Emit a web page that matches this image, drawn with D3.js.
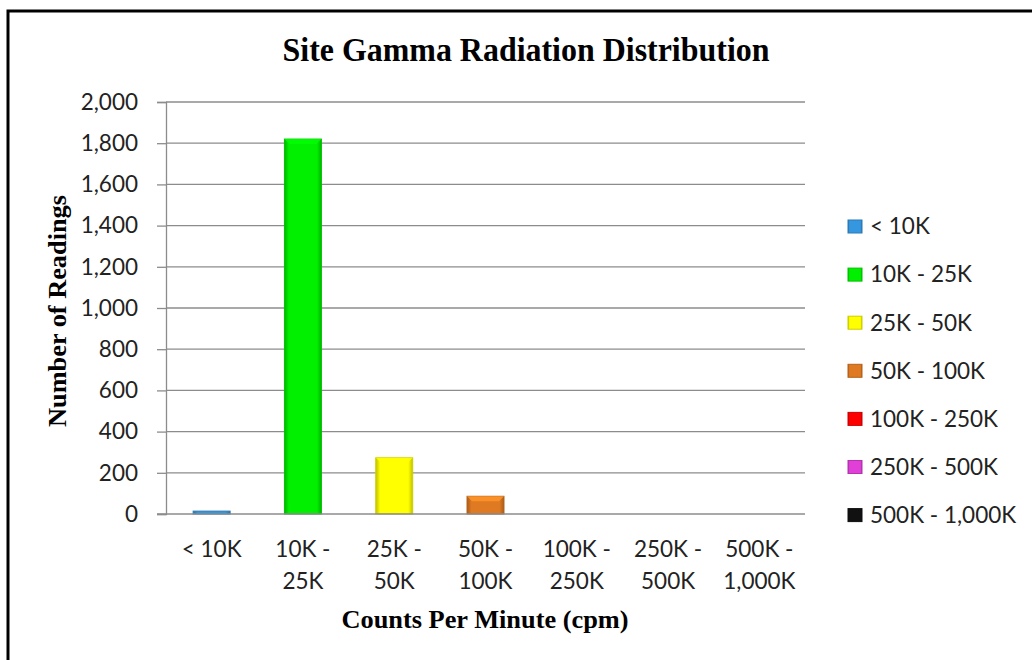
<!DOCTYPE html>
<html>
<head>
<meta charset="utf-8">
<title>Site Gamma Radiation Distribution</title>
<script src="https://d3js.org/d3.v7.min.js"></script>
<style>
    body { margin: 0; background: white; }
    .tick-label { font-family: Lato, "Open Sans", sans-serif; font-size: 22.5px; fill: #222; }
    .serif-title { font-family: "Liberation Serif", "DejaVu Serif", serif; font-weight: bold; fill: #000; }
</style>
</head>
<body>
<div id="chart"></div>
<script>
    // chart data
    const categories = ["< 10K", "10K - 25K", "25K - 50K", "50K - 100K", "100K - 250K", "250K - 500K", "500K - 1,000K"];
    const categoryLines = [["< 10K"], ["10K -", "25K"], ["25K -", "50K"], ["50K -", "100K"], ["100K -", "250K"], ["250K -", "500K"], ["500K -", "1,000K"]];
    const readings = [14, 1820, 273, 86, 0, 0, 0];
    const barColors = ["#3597df", "#00f000", "#ffff00", "#e07a22", "#ff0000", "#e040d8", "#111111"];
    const yTicks = [0, 200, 400, 600, 800, 1000, 1200, 1400, 1600, 1800, 2000];

    const width = 1032, height = 660;
    const plot = { left: 166, right: 805, top: 102, bottom: 514 };

    const svg = d3.select("#chart").append("svg")
        .attr("width", width)
        .attr("height", height);

    // outer frame (runs off the right and bottom edges)
    svg.append("rect")
        .attr("x", 8).attr("y", 11)
        .attr("width", 1200).attr("height", 900)
        .attr("fill", "white")
        .attr("stroke", "#000")
        .attr("stroke-width", 3);

    const x = d3.scaleBand()
        .domain(categories)
        .range([plot.left, plot.right])
        .paddingInner(0.595)
        .paddingOuter(0.2975);

    const y = d3.scaleLinear()
        .domain([0, 2000])
        .range([plot.bottom, plot.top]);

    // gradients to fake the bevelled bars
    const defs = svg.append("defs");
    barColors.forEach((c, i) => {
        const g = defs.append("linearGradient").attr("id", "bev" + i)
            .attr("x1", 0).attr("x2", 1).attr("y1", 0).attr("y2", 0);
        const dark = d3.color(c).darker(0.8);
        g.append("stop").attr("offset", "0%").attr("stop-color", dark);
        g.append("stop").attr("offset", "12%").attr("stop-color", c);
        g.append("stop").attr("offset", "88%").attr("stop-color", c);
        g.append("stop").attr("offset", "100%").attr("stop-color", dark);
    });

    // gridlines
    svg.append("g")
        .selectAll("line")
        .data(yTicks.filter(d => d > 0))
        .join("line")
        .attr("x1", plot.left).attr("x2", plot.right)
        .attr("y1", d => y(d)).attr("y2", d => y(d))
        .attr("stroke", "#8c8c8c")
        .attr("stroke-width", 1.3);

    // y axis
    const yAxis = svg.append("g")
        .attr("transform", `translate(${plot.left},0)`)
        .call(d3.axisLeft(y).tickValues(yTicks).tickSize(9).tickPadding(19).tickFormat(d3.format(",")));
    yAxis.select(".domain").attr("stroke", "#8c8c8c").attr("stroke-width", 1.3);
    yAxis.selectAll(".tick line").attr("stroke", "#8c8c8c").attr("stroke-width", 1.3);
    yAxis.selectAll(".tick text").attr("class", "tick-label").attr("font-family", null).attr("font-size", null);

    // bars
    const barData = readings.map((v, i) => ({ cat: categories[i], value: v, color: barColors[i], idx: i }));
    const bars = svg.append("g")
        .selectAll("g")
        .data(barData)
        .join("g");

    bars.append("rect")
        .attr("x", d => x(d.cat))
        .attr("y", d => y(d.value))
        .attr("width", x.bandwidth())
        .attr("height", d => y(0) - y(d.value))
        .attr("fill", d => `url(#bev${d.idx})`)
        .attr("stroke", d => d3.color(d.color).darker(0.6))
        .attr("stroke-width", 1);

    // top bevel highlight
    bars.filter(d => y(0) - y(d.value) > 8)
        .append("path")
        .attr("d", d => {
            const x0 = x(d.cat), x1 = x0 + x.bandwidth(), t = y(d.value), b = 5;
            return `M${x0},${t}L${x1},${t}L${x1 - b},${t + b}L${x0 + b},${t + b}Z`;
        })
        .attr("fill", d => d3.color(d.color).brighter(0.6))
        .attr("opacity", 0.8);

    // x baseline
    svg.append("line")
        .attr("x1", plot.left - 9).attr("x2", plot.right)
        .attr("y1", y(0)).attr("y2", y(0))
        .attr("stroke", "#8c8c8c")
        .attr("stroke-width", 1.3);

    // x labels
    const xl = svg.append("g")
        .selectAll("text")
        .data(categoryLines)
        .join("text")
        .attr("class", "tick-label")
        .attr("text-anchor", "middle")
        .attr("x", (d, i) => x(categories[i]) + x.bandwidth() / 2);
    xl.selectAll("tspan")
        .data(d => d)
        .join("tspan")
        .attr("x", function () { return this.parentNode.getAttribute("x"); })
        .attr("y", (d, j) => 557 + j * 32)
        .text(d => d);

    // titles
    svg.append("text")
        .attr("class", "serif-title")
        .attr("x", 526).attr("y", 61)
        .attr("text-anchor", "middle")
        .attr("font-size", 33)
        .attr("textLength", 487)
        .attr("lengthAdjust", "spacingAndGlyphs")
        .text("Site Gamma Radiation Distribution");

    svg.append("text")
        .attr("class", "serif-title")
        .attr("transform", "translate(66,311) rotate(-90)")
        .attr("text-anchor", "middle")
        .attr("font-size", 26)
        .attr("textLength", 232)
        .attr("lengthAdjust", "spacingAndGlyphs")
        .text("Number of Readings");

    svg.append("text")
        .attr("class", "serif-title")
        .attr("x", 485).attr("y", 628)
        .attr("text-anchor", "middle")
        .attr("font-size", 25)
        .attr("textLength", 287)
        .attr("lengthAdjust", "spacingAndGlyphs")
        .text("Counts Per Minute (cpm)");

    // legend
    const legend = svg.append("g")
        .selectAll("g")
        .data(categories)
        .join("g")
        .attr("transform", (d, i) => `translate(848,${226.5 + i * 48.1})`);

    legend.append("rect")
        .attr("x", 0).attr("y", -6.5)
        .attr("width", 14).attr("height", 13)
        .attr("fill", (d, i) => `url(#bev${i})`)
        .attr("stroke", (d, i) => d3.color(barColors[i]).darker(0.6))
        .attr("stroke-width", 1);

    legend.append("text")
        .attr("class", "tick-label")
        .attr("x", 22)
        .attr("dy", "0.35em")
        .text(d => d);
</script>
</body>
</html>
